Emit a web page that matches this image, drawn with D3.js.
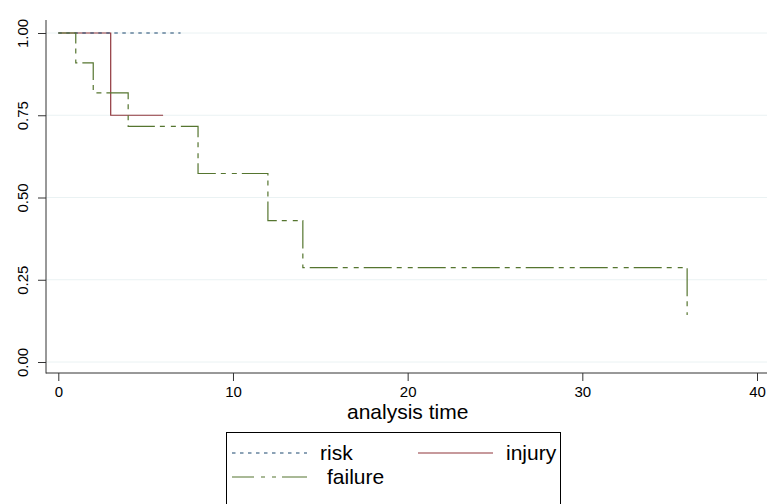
<!DOCTYPE html>
<html><head><meta charset="utf-8">
<script src="https://cdn.jsdelivr.net/npm/d3@7"></script>
<style>body{margin:0;background:#fff}svg{display:block}text{font-family:"Liberation Sans",Arial,Helvetica,sans-serif;fill:#000}</style>
</head><body>
<svg id="c" width="767" height="504"></svg>
<script>
const riskTime = [0, 7];
const riskSurv = [1, 1];
const injuryTime = [0, 3, 6];
const injurySurv = [1, 0.75, 0.75];
const failureTime = [0, 1, 2, 4, 8, 12, 14, 36];
const failureSurv = [1, 0.909, 0.818, 0.716, 0.573, 0.430, 0.287, 0.143];
const xTicks = [0, 10, 20, 30, 40];
const yTicks = [0, 0.25, 0.5, 0.75, 1];
const legendLabels = ["risk", "injury", "failure"];
const xTitle = "analysis time";

const svg = d3.select("#c");
const x = d3.scaleLinear().domain([0, 40]).range([58.3, 757]);
const y = d3.scaleLinear().domain([0, 1]).range([362, 33]);
const axX = 46, axY = 373;

// gridlines
svg.append("g").selectAll("line").data(yTicks).join("line")
  .attr("x1", axX).attr("x2", 767).attr("y1", d => y(d)).attr("y2", d => y(d))
  .attr("stroke", "#eaf2f3").attr("stroke-width", 1);

// y axis
const ya = svg.append("g").attr("transform", `translate(${axX},0)`)
  .call(d3.axisLeft(y).tickValues(yTicks).tickFormat(d3.format(".2f")).tickSize(8).tickSizeOuter(0));
ya.select(".domain").remove();
ya.selectAll(".tick line").attr("stroke", "#333");
ya.selectAll(".tick text").attr("font-size", 15).attr("x", 0).attr("dy", 0)
  .attr("text-anchor", "middle")
  .attr("transform", "translate(-18,0) rotate(-90)");
svg.append("line").attr("x1", axX).attr("x2", axX).attr("y1", 20).attr("y2", axY + 0.5).attr("stroke", "#333");

// x axis
const xa = svg.append("g").attr("transform", `translate(0,${axY})`)
  .call(d3.axisBottom(x).tickValues(xTicks).tickSize(8).tickSizeOuter(0));
xa.select(".domain").remove();
xa.selectAll(".tick line").attr("stroke", "#333");
xa.selectAll(".tick text").attr("font-size", 15).attr("y", 24).attr("dy", 0);
svg.append("line").attr("x1", axX).attr("x2", 767).attr("y1", axY).attr("y2", axY).attr("stroke", "#333");

svg.append("text").attr("x", x(20)).attr("y", 419).attr("text-anchor", "middle")
  .attr("font-size", 21).text(xTitle);

// curves
const line = d3.line().x(d => x(d[0])).y(d => y(d[1])).curve(d3.curveStepAfter);
const zip = (t, s) => t.map((v, i) => [v, s[i]]);
const colors = {risk: "#1a476f", injury: "#90353b", failure: "#55752f"};
const dashes = {risk: "3.5,4.5", injury: null, failure: "28,5,5,6,5,5"};

svg.append("path").datum(zip(injuryTime, injurySurv)).attr("d", line)
  .attr("fill", "none").attr("stroke", colors.injury).attr("stroke-width", 1.2);
svg.append("path").datum(zip(riskTime, riskSurv)).attr("d", line)
  .attr("fill", "none").attr("stroke", colors.risk).attr("stroke-width", 1.2).attr("stroke-dasharray", dashes.risk);
svg.append("path").datum(zip(failureTime, failureSurv)).attr("d", line)
  .attr("fill", "none").attr("stroke", colors.failure).attr("stroke-width", 1.2).attr("stroke-dasharray", dashes.failure);

// legend
const lg = svg.append("g");
lg.append("rect").attr("x", 226.5).attr("y", 432.5).attr("width", 334).attr("height", 90)
  .attr("fill", "#fff").attr("stroke", "#000");
const items = [
  {k: "risk", lx: 232, ly: 453, tx: 320},
  {k: "injury", lx: 418, ly: 453, tx: 506},
  {k: "failure", lx: 232, ly: 477, tx: 327}
];
items.forEach((it, i) => {
  const l = lg.append("line").attr("x1", it.lx).attr("x2", it.lx + 75).attr("y1", it.ly).attr("y2", it.ly)
    .attr("stroke", colors[it.k]).attr("stroke-width", 1.2);
  if (it.k === "risk") l.attr("stroke-dasharray", "3.5,4.5");
  if (it.k === "failure") l.attr("stroke-dasharray", "22,7,4,7,4,6,25");
  lg.append("text").attr("x", it.tx).attr("y", it.ly + 7).attr("font-size", 21).text(legendLabels[i]);
});
</script>
</body></html>
